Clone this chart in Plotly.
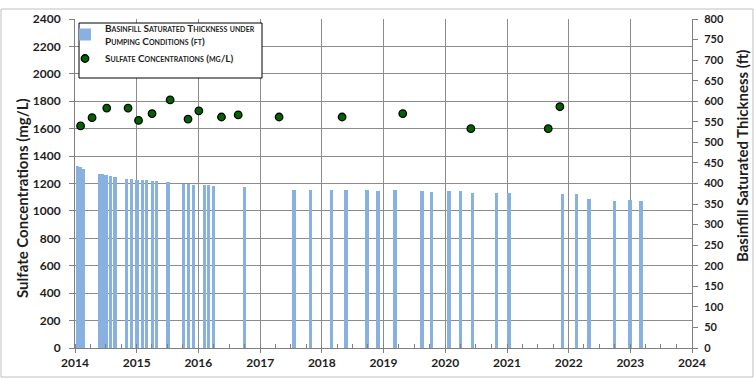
import plotly.graph_objects as go

# ---- data ----
thickness_dates = [
    "2014-01-15", "2014-02-02", "2014-02-17", "2014-05-25", "2014-06-09",
    "2014-07-04", "2014-07-30", "2014-08-25", "2014-11-02", "2014-12-01",
    "2015-01-04", "2015-02-03", "2015-03-02", "2015-04-06", "2015-04-28",
    "2015-07-06", "2015-10-07", "2015-11-05", "2015-12-03", "2016-02-08",
    "2016-03-01", "2016-03-31", "2016-10-02", "2017-07-21", "2017-10-26",
    "2018-02-27", "2018-05-25", "2018-09-26", "2018-11-30", "2019-03-11",
    "2019-08-16", "2019-10-12", "2020-01-24", "2020-03-30", "2020-06-11",
    "2020-10-31", "2021-01-13", "2021-11-26", "2022-02-15", "2022-05-01",
    "2022-09-30", "2022-12-29", "2023-03-04",
]
thickness_ft = [
    442, 439, 436, 424, 422,
    420, 419, 416, 412, 411,
    409, 409, 409, 407, 406,
    403, 399, 399, 397, 397,
    396, 394, 391, 385, 383,
    385, 385, 383, 381, 385,
    381, 379, 381, 381, 378,
    377, 376, 374, 374, 362,
    357, 361, 358,
]

sulfate_dates = [
    "2014-02-03", "2014-04-12", "2014-07-08", "2014-11-11", "2015-01-12",
    "2015-04-02", "2015-07-18", "2015-11-01", "2016-01-04", "2016-05-17",
    "2016-08-24", "2017-04-23", "2018-05-01", "2019-04-25", "2020-06-01",
    "2021-09-02", "2021-11-10",
]
sulfate_mgL = [
    1620, 1680, 1750, 1750, 1660,
    1710, 1810, 1670, 1730, 1685,
    1700, 1685, 1685, 1710, 1600,
    1600, 1760,
]

left_ticks = list(range(0, 2401, 200))
right_ticks = list(range(0, 801, 50))

FONT = "Lato"
TXT = "#1e1e1e"
GRID = "#8c8c8c"
AX = "#808080"

fig = go.Figure()

fig.add_trace(go.Bar(
    x=thickness_dates, y=thickness_ft, yaxis="y",
    name="Basinfill Saturated Thickness under<br>Pumping Conditions (ft)",
    marker=dict(color="#88B0E0", line=dict(width=0)),
    width=[20 * 86400000] * len(thickness_dates),
))
fig.add_trace(go.Scatter(
    x=sulfate_dates, y=sulfate_mgL, yaxis="y2", mode="markers",
    name="Sulfate Concentrations (mg/L)",
    marker=dict(color="#006400", size=7.5, line=dict(color="black", width=1.3)),
))

W, H = 754, 378
L, R, T, B = 75, 62, 19, 30
pw, ph = W - L - R, H - T - B


def px_x(p):
    return (p - L) / pw


def px_y(p):
    return (H - B - p) / ph


fig.update_layout(
    width=W, height=H,
    margin=dict(l=L, r=R, t=T, b=B, pad=0, autoexpand=False),
    paper_bgcolor="white", plot_bgcolor="white",
    font=dict(family=FONT, color=TXT),
    bargap=0,
    showlegend=True,
    legend=dict(
        x=px_x(65), y=px_y(15), xanchor="left", yanchor="top",
        bgcolor="rgba(0,0,0,0)", borderwidth=0,
        font=dict(family=FONT, size=10, color=TXT, weight="bold", variant="small-caps"),
        tracegroupgap=0,
    ),
    xaxis=dict(
        type="date", range=["2014-01-01", "2024-01-01"],
        dtick="M12", tick0="2014-01-01", tickformat="%Y",
        tickfont=dict(family=FONT, size=12, weight="bold", color=TXT),
        showgrid=True, gridcolor=GRID, gridwidth=1,
        showline=True, linecolor=AX, linewidth=1,
        ticks="outside", ticklen=4, tickcolor=AX,
        minor=dict(dtick="M3", ticks="inside", ticklen=4, tickcolor=AX, showgrid=False),
        zeroline=False,
    ),
    yaxis=dict(
        side="right", range=[0, 800], tickvals=right_ticks,
        tickfont=dict(family=FONT, size=11, weight="bold", color=TXT),
        showgrid=False, showline=True, linecolor=AX, linewidth=1,
        ticks="outside", ticklen=5, tickcolor=AX, zeroline=False,
        ticklabelstandoff=4,
    ),
    yaxis2=dict(
        side="left", overlaying="y", range=[0, 2400], tickvals=left_ticks,
        tickfont=dict(family=FONT, size=12, weight="bold", color=TXT),
        showgrid=True, gridcolor=GRID, gridwidth=1,
        showline=True, linecolor=AX, linewidth=1,
        ticks="outside", ticklen=5, tickcolor=AX, zeroline=False,
        ticklabelstandoff=6,
    ),
    shapes=[
        # outer frame
        dict(type="rect", xref="paper", yref="paper",
             x0=px_x(1), x1=px_x(753), y0=px_y(377), y1=px_y(9),
             line=dict(color="#c0c0c0", width=1), layer="below"),
        # legend box
        dict(type="rect", xref="paper", yref="paper",
             x0=px_x(79), x1=px_x(262), y0=px_y(78), y1=px_y(23),
             fillcolor="white", line=dict(color="black", width=1), layer="above"),
    ],
    annotations=[
        dict(text="Sulfate Concentrations (mg/L)", xref="paper", yref="paper",
             x=px_x(22), y=px_y(198), textangle=-90, showarrow=False,
             xanchor="center", yanchor="middle",
             font=dict(family=FONT, size=15, weight="bold", color=TXT)),
        dict(text="Basinfill Saturated Thickness (ft)", xref="paper", yref="paper",
             x=px_x(742), y=px_y(156), textangle=-90, showarrow=False,
             xanchor="center", yanchor="middle",
             font=dict(family=FONT, size=15, weight="bold", color=TXT)),
    ],
)

fig.write_html(
    "out.html",
    config={"displayModeBar": False},
    post_script="document.body.style.margin='0';document.body.style.padding='0';"
                "document.body.style.overflow='hidden';",
)
